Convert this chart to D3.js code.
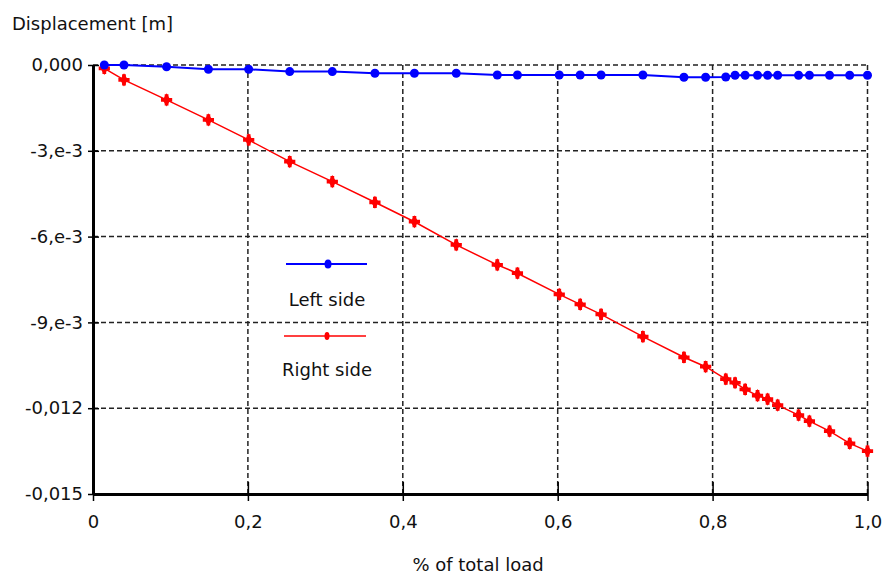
<!DOCTYPE html>
<meta charset="utf-8">
<style>
body { margin: 0; background: #fff; }
text { font-family: "DejaVu Sans", sans-serif; font-size: 18px; fill: #111; }
.grid line { stroke: #222; stroke-width: 1.5px; stroke-dasharray: 5,3; }
</style>
<svg width="885" height="577"></svg>
<script src="https://d3js.org/d3.v7.min.js"></script>
<script>

// load fraction (shared by both series)
var loads = [0.0146, 0.040, 0.095, 0.149, 0.201, 0.254, 0.309, 0.364, 0.415, 0.469,
             0.522, 0.548, 0.602, 0.629, 0.656, 0.710, 0.763, 0.791, 0.817, 0.829,
             0.842, 0.858, 0.871, 0.884, 0.911, 0.925, 0.951, 0.977, 1.0];

var leftSide = [0, 0, -0.00006, -0.00015, -0.00015, -0.00023, -0.00023, -0.00029, -0.00029, -0.00029,
                -0.00035, -0.00035, -0.00035, -0.00035, -0.00035, -0.00035, -0.00043, -0.00043, -0.00042, -0.00036,
                -0.00036, -0.00036, -0.00036, -0.00036, -0.00036, -0.00036, -0.00036, -0.00036, -0.00036];

var rightSide = [-0.00012, -0.00052, -0.00122, -0.00192, -0.00262, -0.00338, -0.00408, -0.00480, -0.00548, -0.00629,
                 -0.00699, -0.00728, -0.00802, -0.00837, -0.00872, -0.00950, -0.01022, -0.01055, -0.01098, -0.01111,
                 -0.01134, -0.01156, -0.01168, -0.01189, -0.01224, -0.01245, -0.01280, -0.01323, -0.01350];

var xTicks = [0, 0.2, 0.4, 0.6, 0.8, 1.0];
var xTickLabels = ["0", "0,2", "0,4", "0,6", "0,8", "1,0"];
var yTicks = [0, -0.003, -0.006, -0.009, -0.012, -0.015];
var yTickLabels = ["0,000", "-3,e-3", "-6,e-3", "-9,e-3", "-0,012", "-0,015"];

var svg = d3.select("svg");

var x = d3.scaleLinear().domain([0, 1]).range([93, 867.5]);
var y = d3.scaleLinear().domain([-0.015, 0]).range([494, 65]);

// grid
var grid = svg.append("g").attr("class", "grid");
grid.selectAll(".gx")
    .data(xTicks.slice(1))
  .enter().append("line")
    .attr("x1", d => x(d)).attr("x2", d => x(d))
    .attr("y1", y(0)).attr("y2", y(-0.015));
grid.selectAll(".gy")
    .data(yTicks.slice(0, -1))
  .enter().append("line")
    .attr("x1", x(0)).attr("x2", x(1))
    .attr("y1", d => y(d)).attr("y2", d => y(d));

// axes
var xAxis = d3.axisBottom(x)
    .tickValues(xTicks)
    .tickFormat((d, i) => xTickLabels[i])
    .tickSizeInner(7).tickSizeOuter(0).tickPadding(14);
var gx = svg.append("g").attr("transform", "translate(0," + y(-0.015) + ")").call(xAxis);
gx.select(".domain").attr("stroke", "#000").attr("stroke-width", 3);
gx.selectAll(".tick line").attr("y1", -12).attr("stroke", "#000").attr("stroke-width", 1.5);
gx.selectAll(".tick text").attr("font-size", null).attr("font-family", null).attr("fill", "#111");

var yAxis = d3.axisLeft(y)
    .tickValues(yTicks)
    .tickFormat((d, i) => yTickLabels[i])
    .tickSizeInner(5).tickSizeOuter(0).tickPadding(5);
var gy = svg.append("g").attr("transform", "translate(" + x(0) + ",0)").call(yAxis);
gy.select(".domain").attr("stroke", "#000").attr("stroke-width", 3);
gy.selectAll(".tick line").attr("x2", 6).attr("x1", -5).attr("stroke", "#000").attr("stroke-width", 1.5);
gy.selectAll(".tick text").attr("font-size", null).attr("font-family", null).attr("fill", "#111");
svg.selectAll(".domain").attr("fill", "none");

// series
var line = d3.line().x(d => x(d[0])).y(d => y(d[1]));
var leftData = loads.map((l, i) => [l, leftSide[i]]);
var rightData = loads.map((l, i) => [l, rightSide[i]]);

svg.append("path").datum(rightData)
    .attr("fill", "none").attr("stroke", "#ff0000").attr("stroke-width", 1.5)
    .attr("d", line);
var cross = d3.symbol().type(d3.symbolCross).size(70);
var diamond = d3.symbol().type(d3.symbolDiamond).size(50);
var rm = svg.append("g").selectAll("g")
    .data(rightData)
  .enter().append("g")
    .attr("transform", d => "translate(" + x(d[0]) + "," + y(d[1]) + ")");
rm.append("path").attr("d", cross).attr("fill", "#ff0000");
rm.append("path").attr("d", diamond).attr("fill", "#ff0000");

svg.append("path").datum(leftData)
    .attr("fill", "none").attr("stroke", "#0000ff").attr("stroke-width", 2)
    .attr("d", line);
svg.append("g").selectAll("circle")
    .data(leftData)
  .enter().append("circle")
    .attr("cx", d => x(d[0])).attr("cy", d => y(d[1]))
    .attr("r", 4.5).attr("fill", "#0000ff");

// legend
var legend = svg.append("g");
legend.append("line").attr("x1", 286).attr("x2", 367).attr("y1", 264).attr("y2", 264)
    .attr("stroke", "#0000ff").attr("stroke-width", 2);
legend.append("ellipse").attr("cx", 328).attr("cy", 264).attr("rx", 3.5).attr("ry", 4.5).attr("fill", "#0000ff");
legend.append("text").attr("x", 327).attr("y", 306).attr("text-anchor", "middle").text("Left side");
legend.append("line").attr("x1", 284).attr("x2", 366).attr("y1", 336).attr("y2", 336)
    .attr("stroke", "#ff0000").attr("stroke-width", 1.5);
legend.append("ellipse").attr("cx", 327).attr("cy", 336).attr("rx", 2.5).attr("ry", 4).attr("fill", "#ff0000");
legend.append("text").attr("x", 327).attr("y", 376).attr("text-anchor", "middle").text("Right side");

// titles
svg.append("text").attr("x", 12).attr("y", 30).text("Displacement [m]");
svg.append("text").attr("x", 478).attr("y", 571).attr("text-anchor", "middle").text("% of total load");

</script>
